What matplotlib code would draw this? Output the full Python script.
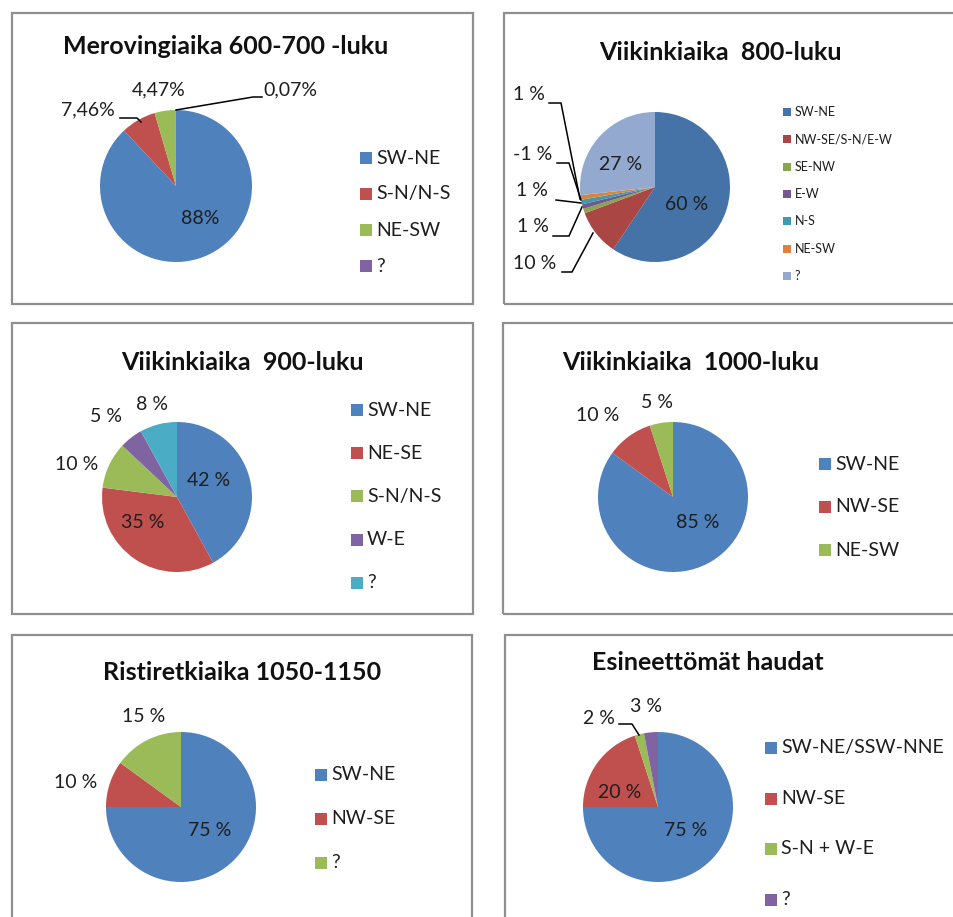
import matplotlib
matplotlib.use("Agg")
import matplotlib.pyplot as plt
from matplotlib.patches import Rectangle
from matplotlib.lines import Line2D

W, H = 954, 917
plt.rcParams['font.family'] = ['Lato', 'DejaVu Sans']

# data
mero_labels = ['SW-NE', 'S-N/N-S', 'NE-SW', '?']
mero_vals = [88.0, 7.46, 4.47, 0.07]
mero_text = ['88%', '7,46%', '4,47%', '0,07%']

v800_labels = ['SW-NE', 'NW-SE/S-N/E-W', 'SE-NW', 'E-W', 'N-S', 'NE-SW', '?']
v800_vals = [60, 10, 1, 1, 1, 1, 27]
v800_text = ['60 %', '10 %', '1 %', '1 %', '-1 %', '1 %', '27 %']

v900_labels = ['SW-NE', 'NE-SE', 'S-N/N-S', 'W-E', '?']
v900_vals = [42, 35, 10, 5, 8]
v900_text = ['42 %', '35 %', '10 %', '5 %', '8 %']

v1000_labels = ['SW-NE', 'NW-SE', 'NE-SW']
v1000_vals = [85, 10, 5]
v1000_text = ['85 %', '10 %', '5 %']

risti_labels = ['SW-NE', 'NW-SE', '?']
risti_vals = [75, 10, 15]
risti_text = ['75 %', '10 %', '15 %']

esine_labels = ['SW-NE/SSW-NNE', 'NW-SE', 'S-N + W-E', '?']
esine_vals = [75, 20, 2, 3]
esine_text = ['75 %', '20 %', '2 %', '3 %']

office = ['#4F81BD', '#C0504D', '#9BBB59', '#8064A2', '#4BACC6', '#F79646']
office_dark = ['#4572A7', '#AA4643', '#89A54E', '#71588F', '#4198AF', '#DB843D', '#93A9CF']

fig = plt.figure(figsize=(W / 100, H / 100), dpi=100)
fig.patch.set_facecolor('white')


def fx(x):
    return x / W


def fy(y):
    return 1 - y / H


def box(x0, y0, x1, y1):
    fig.patches.append(Rectangle((fx(x0), fy(y1)), fx(x1) - fx(x0), fy(y0) - fy(y1),
                                 transform=fig.transFigure, fill=False,
                                 edgecolor='#8f8f8f', linewidth=1.6))


def pie(cx, cy, r, vals, colors):
    ax = fig.add_axes([fx(cx - r), fy(cy + r), 2 * r / W, 2 * r / H])
    ax.pie(vals, colors=colors, startangle=90, counterclock=False,
           wedgeprops=dict(linewidth=0))
    ax.set_xlim(-1, 1)
    ax.set_ylim(-1, 1)
    ax.axis('off')
    return ax


def label(x, y, s, size=14, ha='center'):
    fig.text(fx(x), fy(y), s, fontsize=size, ha=ha, va='center', color='#1e1e1e')


def title(x, y, s, size=18):
    fig.text(fx(x), fy(y), s, fontsize=size, fontweight='bold', ha='center',
             va='center', color='#111111')


def legend(x, y0, step, names, colors, size=14, sq=12):
    for i, name in enumerate(names):
        y = y0 + i * step
        fig.patches.append(Rectangle((fx(x), fy(y + sq / 2)), sq / W, sq / H,
                                     transform=fig.transFigure, facecolor=colors[i],
                                     edgecolor='none'))
        fig.text(fx(x + sq + 4), fy(y), name, fontsize=size, ha='left', va='center',
                 color='#1e1e1e')


def leader(xs, ys):
    fig.lines.append(Line2D([fx(v) for v in xs], [fy(v) for v in ys],
                            transform=fig.transFigure, color='black', linewidth=1.1))


# panel boxes
box(12, 13, 473, 304)
box(504, 13, 980, 304)
box(12, 323, 473, 614)
box(503, 323, 980, 614)
box(12, 635, 472, 940)
box(505, 635, 980, 940)

# 1. Merovingiaika
title(226, 47, 'Merovingiaika 600-700 -luku')
pie(176, 186, 76, mero_vals, office)
label(200, 218, mero_text[0])
label(88, 110, mero_text[1])
label(159, 90, mero_text[2])
label(290, 90, mero_text[3])
leader([120, 137, 141], [118, 118, 122])
leader([176, 253, 262], [110, 97, 97])
legend(360, 158, 36, mero_labels, office)

# 2. Viikinkiaika 800
title(720, 52, 'Viikinkiaika  800-luku')
pie(655, 187, 75, v800_vals, office_dark)
label(687, 205, v800_text[0])
label(621, 165, v800_text[6])
label(535, 263, v800_text[1])
label(533, 227, v800_text[2])
label(532, 191, v800_text[3])
label(533, 155, v800_text[4])
label(529, 95, v800_text[5])
leader([562, 572, 593], [272, 272, 233])
leader([553, 569, 582], [236, 236, 207])
leader([556, 581], [200, 203])
leader([557, 569, 581], [163, 163, 200])
leader([549, 561, 580], [103, 103, 199])
legend(783, 112, 27.3, v800_labels, office_dark, size=9, sq=8)

# 3. Viikinkiaika 900
title(242, 362, 'Viikinkiaika  900-luku')
pie(177, 497, 75, v900_vals, office)
label(209, 480, v900_text[0])
label(143, 522, v900_text[1])
label(77, 464, v900_text[2])
label(106, 417, v900_text[3])
label(152, 404, v900_text[4])
legend(351, 410, 43.2, v900_labels, office)

# 4. Viikinkiaika 1000
title(691, 362, 'Viikinkiaika  1000-luku')
pie(673, 497, 75, v1000_vals, office)
label(698, 522, v1000_text[0])
label(598, 416, v1000_text[1])
label(657, 402, v1000_text[2])
legend(819, 464, 43, v1000_labels, office)

# 5. Ristiretkiaika
title(242, 672, 'Ristiretkiaika 1050-1150')
pie(181, 807, 75, risti_vals, office)
label(210, 830, risti_text[0])
label(76, 783, risti_text[1])
label(144, 716, risti_text[2])
legend(315, 775, 44, risti_labels, office)

# 6. Esineettomat haudat
title(708, 663, 'Esineettömät haudat')
pie(658, 807, 75, esine_vals, office)
label(686, 830, esine_text[0])
label(620, 792, esine_text[1])
label(599, 718, esine_text[2])
label(646, 706, esine_text[3])
leader([619, 632, 639], [724, 724, 735])
legend(765, 748, 50.5, esine_labels, office)

fig.savefig('out.png', dpi=100, facecolor='white')
